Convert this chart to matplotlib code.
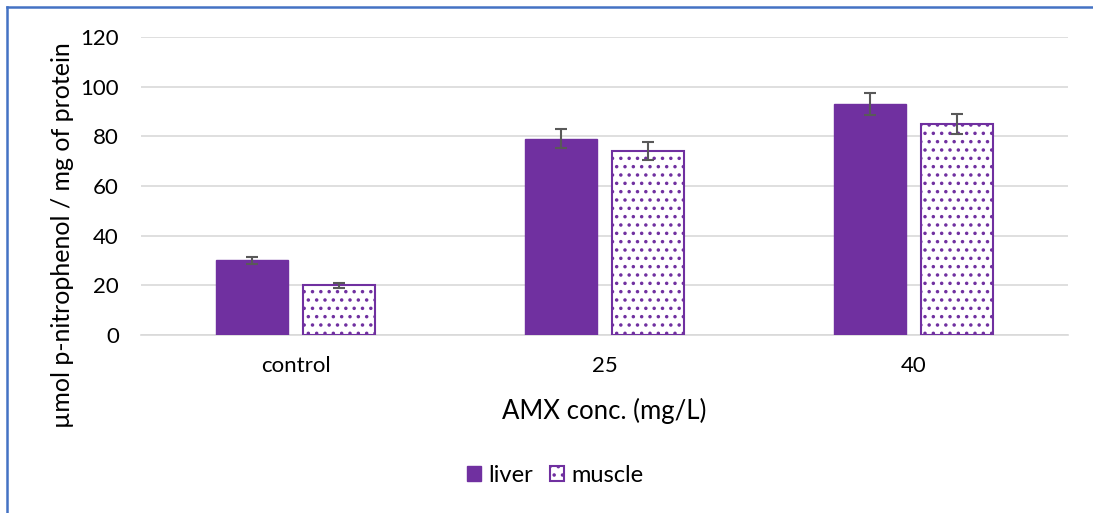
import matplotlib.pyplot as plt
import numpy as np
from matplotlib.lines import Line2D

plt.rcParams['font.family'] = ['Lato', 'DejaVu Sans']
plt.rcParams['hatch.linewidth'] = 1.3

categories = ['control', '25', '40']
liver = [30, 79, 93]
liver_err = [1.5, 3.8, 4.6]
muscle = [20, 74, 85]
muscle_err = [1.0, 3.5, 4.0]

purple = '#7030A0'
err_col = '#595959'

fig = plt.figure(figsize=(10.93, 5.13), dpi=100, facecolor='white')
ax = fig.add_axes([0.129, 0.347, 0.848, 0.581])

x = np.arange(len(categories))
w = 0.233
off = 0.142

ax.bar(x - off, liver, w, color=purple, edgecolor=purple, linewidth=1, zorder=3, label='liver')
ax.bar(x + off, muscle, w, color='white', edgecolor=purple, hatch='..', linewidth=1.5, zorder=3, label='muscle')
ax.errorbar(x - off, liver, yerr=liver_err, fmt='none', ecolor=err_col, elinewidth=1.5, capsize=4, capthick=1.5, zorder=4)
ax.errorbar(x + off, muscle, yerr=muscle_err, fmt='none', ecolor=err_col, elinewidth=1.5, capsize=4, capthick=1.5, zorder=4)

ax.set_xlim(-0.5, 2.5)
ax.set_ylim(0, 120)
ax.set_yticks(range(0, 121, 20))
ax.set_xticks(x)
ax.set_xticklabels(categories)
ax.grid(axis='y', color='#d9d9d9', linewidth=1.2, zorder=0)
ax.set_axisbelow(True)
for s in ['top', 'right', 'left']:
    ax.spines[s].set_visible(False)
ax.spines['bottom'].set_color('#d9d9d9')
ax.spines['bottom'].set_linewidth(1.2)
ax.tick_params(axis='both', length=0, labelsize=16, colors='black')
ax.tick_params(axis='y', pad=16)
ax.tick_params(axis='x', pad=15)

ax.set_xlabel('AMX conc. (mg/L)', fontsize=18.5, labelpad=16)
# y label is centred on the whole chart area, not on the axes
fig.text(0.057, 0.542, 'µmol p-nitrophenol / mg of protein', fontsize=18,
         rotation=90, ha='center', va='center')

fig.legend(loc='center', bbox_to_anchor=(0.508, 0.073), ncol=2, frameon=False,
           fontsize=17, handlelength=0.6, handleheight=0.6, handletextpad=0.3, columnspacing=0.7)

# blue frame along left and top
fig.add_artist(Line2D([0.0068, 0.0068], [0, 0.986], transform=fig.transFigure, color='#4472C4', linewidth=1.8))
fig.add_artist(Line2D([0.0068, 1], [0.986, 0.986], transform=fig.transFigure, color='#4472C4', linewidth=1.8))

fig.savefig('out.png', dpi=100)
